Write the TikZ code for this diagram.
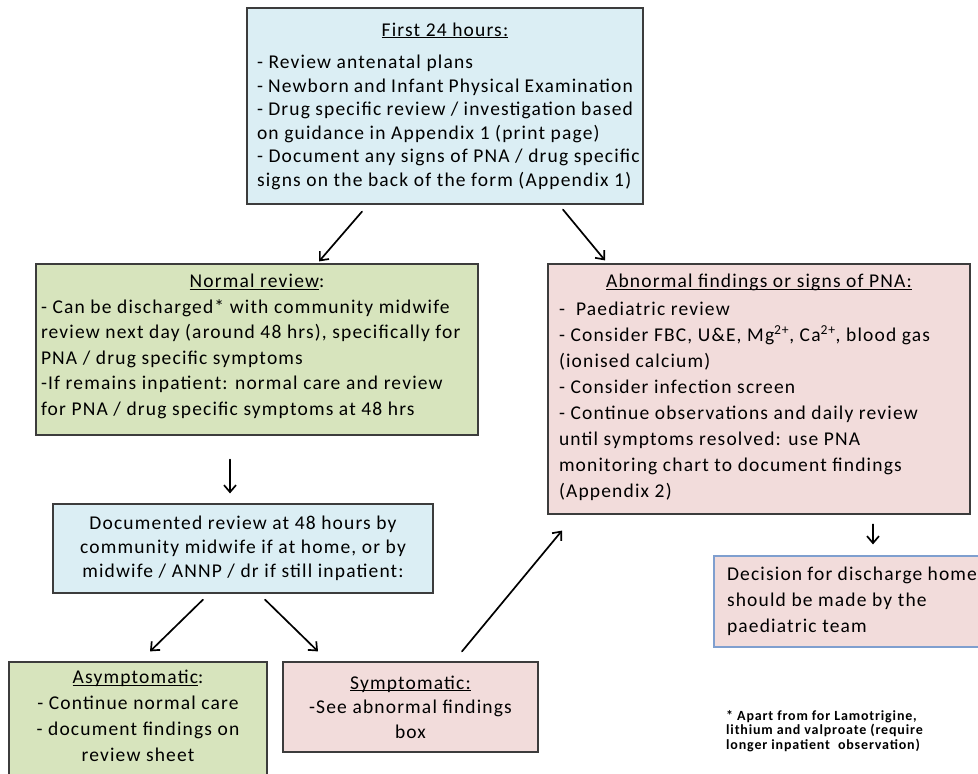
\documentclass[tikz,border=0pt]{standalone}
\usepackage{fontspec}
\setmainfont{Carlito}[LetterSpace=6]
\usetikzlibrary{arrows.meta}
\definecolor{boxblue}{HTML}{DBEEF4}
\definecolor{boxgreen}{HTML}{D7E4BD}
\definecolor{boxpink}{HTML}{F2DCDB}
\definecolor{boxline}{HTML}{3C3C3C}
\definecolor{decline}{HTML}{7F9FCF}
\newcommand\uln[1]{\underline{\smash{#1}}\vphantom{#1}}

\begin{document}
\begin{tikzpicture}[x=1pt, y=-1pt,
	box/.style = {draw=boxline, line width=1.2pt, inner xsep=10pt, inner ysep=0pt, font=\fontsize{19.5}{25}\selectfont},
	arr/.style = {-{Straight Barb[length=7pt,width=12pt]}, line width=1.7pt, line cap=round}]
	\clip (0,0) rectangle (978,774);
	% boxes
	\node[box, fill=boxblue, font=\fontsize{19.5}{23.5}\selectfont] (first) at (445,106) {\parbox[c][196pt][c]{376pt}{\centering\uln{First 24 hours:}\par\vspace{9pt}\raggedright
		- Review antenatal plans\\
		- Newborn and Infant Physical Examination\\
		- Drug specific review / investigation based\\
		on guidance in Appendix 1 (print page)\\
		\makebox[\linewidth][l]{- Document any signs of PNA / drug specific}\\
		signs on the back of the form (Appendix 1)}};
	\node[box, fill=boxgreen, inner xsep=5pt, font=\fontsize{19.5}{25.5}\selectfont] (normal) at (257,349.5) {\parbox[c][171pt][t]{432pt}{\vspace*{10pt}\centering\uln{Normal review}:\par\raggedright
		- Can be discharged* with community midwife\\
		review next day (around 48 hrs), specifically for\\
		PNA / drug specific symptoms\\
		-If remains inpatient: normal care and review\\
		for PNA / drug specific symptoms at 48 hrs}};
	\node[box, fill=boxpink, inner xsep=11pt, font=\fontsize{19.5}{26}\selectfont] (abnormal) at (759,389) {\parbox[c][250pt][t]{400pt}{\vspace*{10pt}\centering\uln{Abnormal findings or signs of PNA:}\par\vspace{2pt}\raggedright
		-~ Paediatric review\\
		- Consider FBC, U\&E, Mg\textsuperscript{2+}, Ca\textsuperscript{2+}, blood gas\\
		(ionised calcium)\\
		- Consider infection screen\\
		- Continue observations and daily review\\
		until symptoms resolved: use PNA\\
		monitoring chart to document findings\\
		(Appendix 2)}};
	\node[box, fill=boxblue, font=\fontsize{19.5}{24}\selectfont] (doc) at (243,548.5) {\parbox[c][89pt][c]{360pt}{\centering
		Documented review at 48 hours by\\
		community midwife if at home, or by\\
		midwife / ANNP / dr if still inpatient:}};
	\node[box, fill=boxgreen, font=\fontsize{19.5}{26}\selectfont] (asymp) at (138,726) {\parbox[c][128pt][t]{238pt}{\vspace*{8pt}\centering
		\uln{Asymptomatic}:\\
		- Continue normal care\\
		- document findings on\\
		review sheet}};
	\node[box, fill=boxpink, font=\fontsize{19.5}{24.5}\selectfont] (symp) at (410.5,707) {\parbox[c][90pt][c]{235pt}{\centering
		\uln{Symptomatic:}\\
		-See abnormal findings\\
		box}};
	\node[box, draw=decline, fill=boxpink, inner xsep=13pt, font=\fontsize{19.5}{26}\selectfont] (decision) at (852,601.5) {\parbox[c][91pt][c]{250pt}{\raggedright
		Decision for discharge home\\
		should be made by the\\
		paediatric team}};
	\node[anchor=north west, align=left, inner sep=0pt, font=\bfseries\fontsize{14}{14.5}\selectfont] (note) at (726,710) {* Apart from for Lamotrigine,\\
		lithium and valproate (require\\
		longer inpatient~ observation)};
	% arrows
	\draw[arr] ([shift={(-83,7)}]first.south) -- ([shift={(62,-2)}]normal.north);
	\draw[arr] ([shift={(118,5)}]first.south) -- ([shift={(-154,-3)}]abnormal.north);
	\draw[arr] ([shift={(-27,24)}]normal.south) -- ([shift={(-13,-10)}]doc.north);
	\draw[arr] ([shift={(-40,6)}]doc.south) -- ([shift={(12,-10)}]asymp.north);
	\draw[arr] ([shift={(22,6)}]doc.south) -- ([shift={(-92.5,-10)}]symp.north);
	\draw[arr] ([shift={(51.5,-10)}]symp.north) -- ([shift={(-197,16)}]abnormal.south);
	\draw[arr] ([shift={(21,-31)}]decision.north) -- ([shift={(21,-11)}]decision.north);
\end{tikzpicture}
\end{document}
